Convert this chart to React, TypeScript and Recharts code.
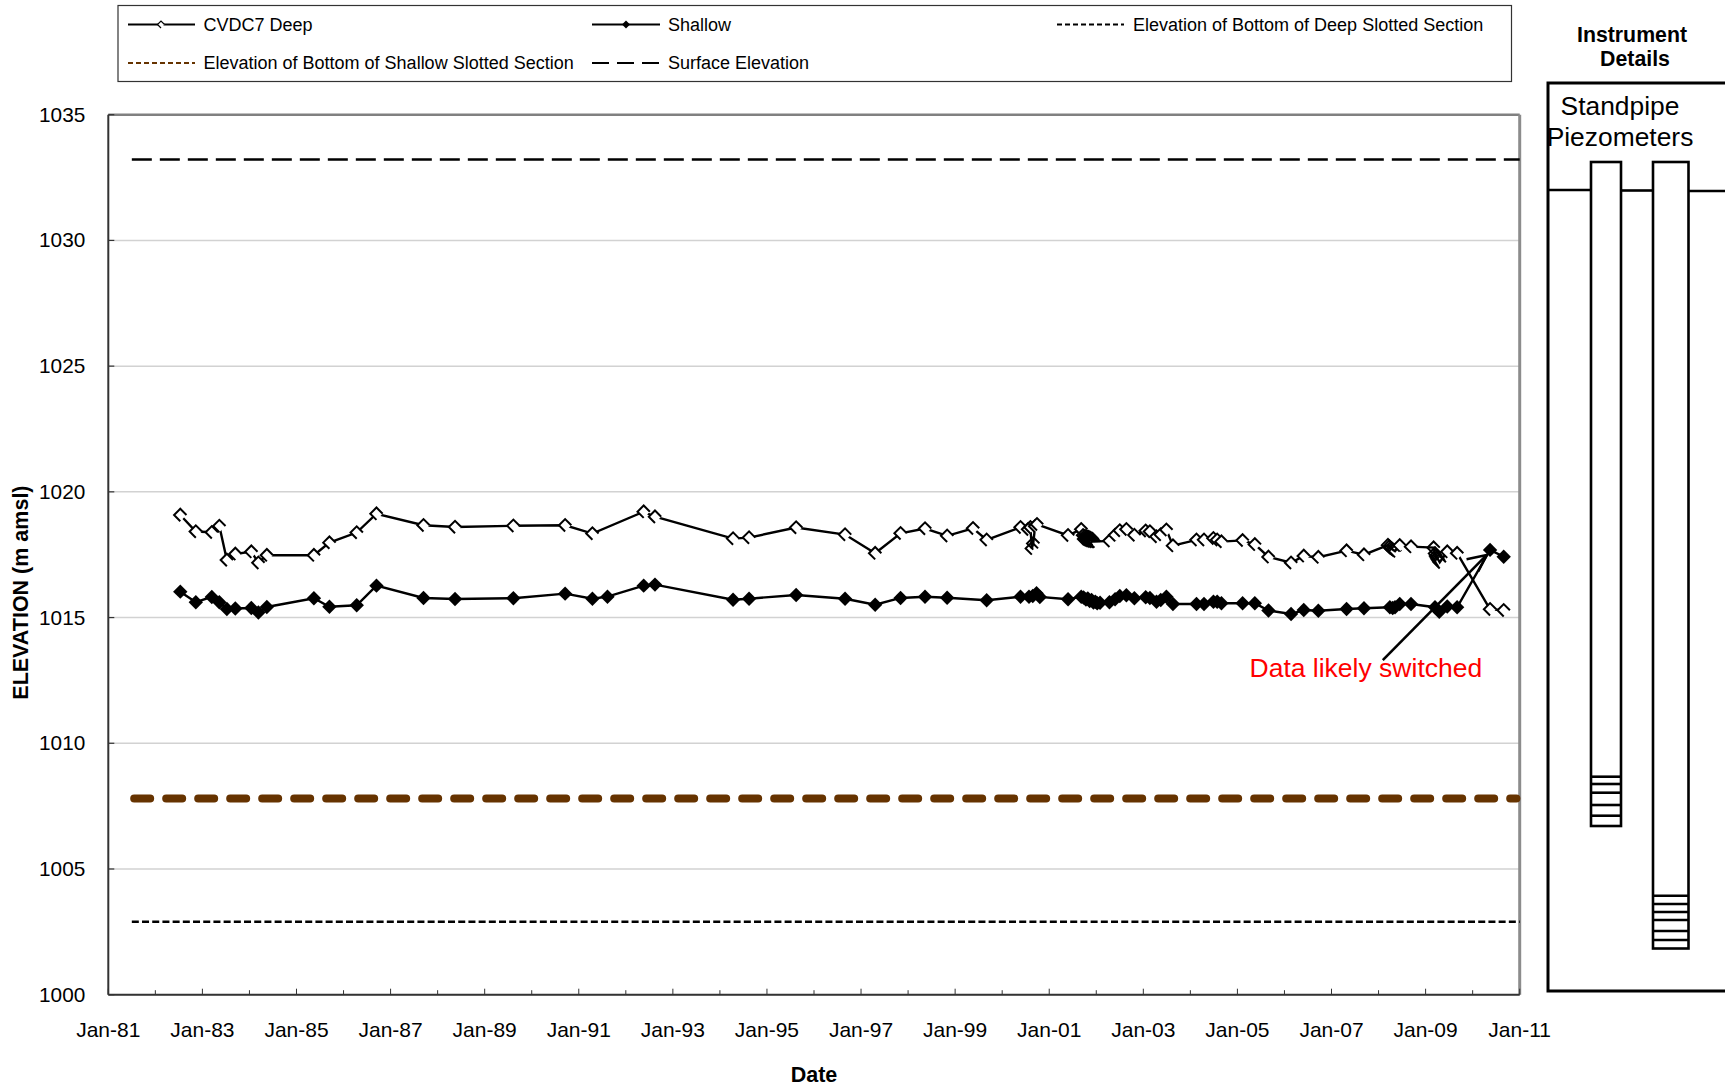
import React from "react";
import { LineChart, Line, XAxis, YAxis, CartesianGrid, ReferenceLine, ReferenceDot } from "recharts";

const FONT = "'Liberation Sans', Arial, sans-serif";

const deepDates = [
  1982.53, 1982.86, 1983.2, 1983.36, 1983.52, 1983.7, 1984.04, 1984.19, 1984.37, 1985.37, 1985.7, 1986.28, 1986.7,
  1987.7, 1988.37, 1989.61, 1990.71, 1991.29, 1992.38, 1992.62, 1994.28, 1994.62, 1995.62, 1996.66, 1997.3, 1997.84,
  1998.36, 1998.83, 1999.38, 1999.67, 2000.39, 2000.55, 2000.6, 2000.63, 2000.66, 2000.7, 2000.74, 2001.4, 2001.68,
  2001.72, 2001.74, 2001.76, 2001.78, 2001.8, 2001.82, 2001.84, 2001.86, 2001.88, 2001.9, 2001.92, 2001.94, 2001.96,
  2002.28, 2002.4, 2002.5, 2002.64, 2002.81, 2003.05, 2003.14, 2003.28, 2003.37, 2003.49, 2003.63, 2004.13, 2004.29,
  2004.49, 2004.57, 2004.66, 2005.11, 2005.37, 2005.66, 2006.14, 2006.41, 2006.72, 2007.32, 2007.69, 2008.2, 2008.23,
  2008.26, 2008.29, 2008.32, 2008.35, 2008.45, 2008.69, 2009.17, 2009.2, 2009.22, 2009.24, 2009.26, 2009.28, 2009.3,
  2009.46, 2009.67, 2010.37, 2010.66,
];
const deepLevels = [
  1019.08, 1018.42, 1018.39, 1018.64, 1017.29, 1017.53, 1017.62, 1017.18, 1017.48, 1017.48, 1017.98, 1018.38, 1019.13,
  1018.67, 1018.6, 1018.65, 1018.67, 1018.34, 1019.21, 1019.01, 1018.14, 1018.18, 1018.58, 1018.3, 1017.56, 1018.35,
  1018.54, 1018.25, 1018.55, 1018.09, 1018.59, 1018.51, 1018.59, 1017.75, 1017.95, 1018.63, 1018.71, 1018.27, 1018.51,
  1018.27, 1018.12, 1018.24, 1018.08, 1018.22, 1018.05, 1018.2, 1018.03, 1018.16, 1018.02, 1018.12, 1018.02, 1018.02,
  1018.05, 1018.28, 1018.46, 1018.51, 1018.28, 1018.45, 1018.42, 1018.22, 1018.3, 1018.49, 1017.86, 1018.09, 1018.09,
  1018.15, 1018.09, 1018.02, 1018.07, 1017.91, 1017.41, 1017.18, 1017.45, 1017.4, 1017.66, 1017.5, 1017.88, 1017.82,
  1017.76, 1017.72, 1017.68, 1017.64, 1017.87, 1017.82, 1017.78, 1017.55, 1017.45, 1017.38, 1017.32, 1017.26, 1017.2,
  1017.62, 1017.56, 1015.33, 1015.29,
];

const shallowDates = [
  1982.53, 1982.86, 1983.2, 1983.36, 1983.52, 1983.7, 1984.04, 1984.19, 1984.37, 1985.37, 1985.7, 1986.28, 1986.7,
  1987.7, 1988.37, 1989.61, 1990.71, 1991.29, 1991.61, 1992.38, 1992.62, 1994.28, 1994.62, 1995.62, 1996.66, 1997.3,
  1997.84, 1998.36, 1998.83, 1999.67, 2000.39, 2000.57, 2000.65, 2000.73, 2000.8, 2001.4, 2001.68, 2001.73, 2001.78,
  2001.82, 2001.86, 2001.9, 2001.94, 2001.98, 2002.02, 2002.08, 2002.28, 2002.4, 2002.5, 2002.64, 2002.81, 2003.05,
  2003.14, 2003.28, 2003.37, 2003.49, 2003.63, 2004.13, 2004.29, 2004.49, 2004.57, 2004.66, 2005.11, 2005.37, 2005.66,
  2006.14, 2006.41, 2006.72, 2007.32, 2007.69, 2008.24, 2008.3, 2008.35, 2008.45, 2008.69, 2009.2, 2009.29, 2009.46,
  2009.67, 2010.37, 2010.66,
];
const shallowLevels = [
  1016.03, 1015.61, 1015.82, 1015.61, 1015.34, 1015.36, 1015.38, 1015.2, 1015.42, 1015.77, 1015.43, 1015.49, 1016.27,
  1015.78, 1015.74, 1015.77, 1015.95, 1015.75, 1015.83, 1016.27, 1016.31, 1015.71, 1015.75, 1015.9, 1015.75, 1015.51,
  1015.78, 1015.83, 1015.79, 1015.69, 1015.83, 1015.83, 1015.86, 1015.97, 1015.82, 1015.73, 1015.83, 1015.8, 1015.72,
  1015.76, 1015.66, 1015.7, 1015.6, 1015.63, 1015.57, 1015.59, 1015.61, 1015.73, 1015.86, 1015.89, 1015.77, 1015.81,
  1015.78, 1015.63, 1015.7, 1015.83, 1015.54, 1015.54, 1015.54, 1015.63, 1015.63, 1015.57, 1015.57, 1015.57, 1015.28,
  1015.14, 1015.3, 1015.27, 1015.34, 1015.37, 1015.41, 1015.38, 1015.41, 1015.54, 1015.54, 1015.41, 1015.23, 1015.44,
  1015.41, 1017.69, 1017.42,
];

const flatSpan = [1981.5, 2011];
const brownSpan = [1981.55, 2010.93];
const surfaceElevation = 1033.22;
const shallowBottom = 1007.8;
const deepBottom = 1002.9;

const yearTicks = [
  1981, 1982, 1983, 1984, 1985, 1986, 1987, 1988, 1989, 1990, 1991, 1992, 1993, 1994, 1995, 1996, 1997, 1998, 1999,
  2000, 2001, 2002, 2003, 2004, 2005, 2006, 2007, 2008, 2009, 2010, 2011,
];
const elevationTicks = [1000, 1005, 1010, 1015, 1020, 1025, 1030, 1035];

const legendTitles = [
  "CVDC7 Deep",
  "Shallow",
  "Elevation of Bottom of Deep Slotted Section",
  "Elevation of Bottom of Shallow Slotted Section",
  "Surface Elevation",
];

const annotationText = "Data likely switched";
const annotationShaft = [[2008.09, 1013.31], [2010.3, 1017.49]];
const annotationBarbA = [[2009.87, 1017.32], [2010.3, 1017.49]];
const annotationBarbB = [[2010.12, 1016.83], [2010.3, 1017.49]];

const pipeOneSlots = [776.7, 784, 792.7, 805, 815.7];
const pipeTwoSlots = [895.7, 904, 912, 920, 931, 940];

const toRows = (xs: number[], ys: number[]) => xs.map((t, i) => ({ t, v: ys[i] }));
const flat = (v: number, span: number[] = flatSpan) => span.map((t) => ({ t, v }));
const seg = (p: number[][]) => p.map(([x, y]) => ({ x, y })) as any;

function DeepDot(p: any) {
  const { cx, cy, index } = p;
  const r = 6.2;
  const prev = deepDates[index - 1];
  const next = deepDates[index + 1];
  const dense = (next !== undefined && next - deepDates[index] < 0.035) || (prev !== undefined && deepDates[index] - prev < 0.035);
  return (
    <g key={index}>
      {dense ? null : (
        <path d={`M${cx - r} ${cy}L${cx} ${cy - r}L${cx + r} ${cy}L${cx} ${cy + r}Z`} fill="#fff" stroke="none" />
      )}
      <path
        d={`M${cx + r} ${cy}L${cx} ${cy - r}L${cx - r} ${cy}L${cx} ${cy + r}`}
        fill="none"
        stroke="#000"
        strokeWidth={2}
      />
    </g>
  );
}

function ShallowDot(p: any) {
  const { cx, cy, index } = p;
  const r = 7.2;
  return <path key={index} d={`M${cx - r} ${cy}L${cx} ${cy - r}L${cx + r} ${cy}L${cx} ${cy + r}Z`} fill="#000" />;
}

function XTick(p: any) {
  const { x, y, payload } = p;
  const odd = payload.value % 2 === 1;
  return (
    <g>
      <line x1={x} x2={x} y1={y} y2={y - (odd ? 6 : 4.5)} stroke="#333" strokeWidth={1} />
      {odd ? (
        <text x={x} y={y + 42} textAnchor="middle" fontFamily={FONT} fontSize={21} fill="#000">
          {`Jan-${String(payload.value).slice(2)}`}
        </text>
      ) : null}
    </g>
  );
}

function YTick(p: any) {
  const { x, y, payload } = p;
  return (
    <g>
      <line x1={x} x2={x + 6} y1={y} y2={y} stroke="#333" strokeWidth={1.2} />
      <text x={x - 23} y={y + 7} textAnchor="end" fontFamily={FONT} fontSize={20.8} fill="#000">
        {payload.value}
      </text>
    </g>
  );
}

function Overlay() {
  const stroke = { stroke: "#000", strokeWidth: 2.6, fill: "none" };
  const txt = { fontFamily: FONT, fill: "#000" };
  const legendFont = 18;
  return (
    <svg
      width={1725}
      height={1087}
      style={{ position: "absolute", left: 0, top: 0, pointerEvents: "none" }}
    >
      <rect x={118} y={5.5} width={1393.5} height={76} fill="#fff" stroke="#333" strokeWidth={1.2} />
      {/* row one */}
      <line x1={128} x2={195} y1={24.5} y2={24.5} stroke="#000" strokeWidth={2} />
      <path d="M157.5 24.5L161 21L164.5 24.5L161 28Z" fill="#fff" />
      <path d="M164.5 24.5L161 21L157.5 24.5L161 28" fill="none" stroke="#000" strokeWidth={1.2} />
      <text x={203.5} y={30.5} fontSize={legendFont} {...txt}>{legendTitles[0]}</text>
      <line x1={592} x2={660} y1={24.5} y2={24.5} stroke="#000" strokeWidth={2} />
      <path d="M622 24.5L626 20.5L630 24.5L626 28.5Z" fill="#000" />
      <text x={668} y={30.5} fontSize={legendFont} {...txt}>{legendTitles[1]}</text>
      <line x1={1057} x2={1124} y1={24.5} y2={24.5} stroke="#000" strokeWidth={2} strokeDasharray="5 3" />
      <text x={1133} y={30.5} fontSize={legendFont} {...txt}>{legendTitles[2]}</text>
      {/* row two */}
      <line x1={128} x2={195} y1={63} y2={63} stroke="#663300" strokeWidth={2} strokeDasharray="5 3" />
      <text x={203.5} y={69} fontSize={legendFont} {...txt}>{legendTitles[3]}</text>
      <line x1={592} x2={660} y1={63} y2={63} stroke="#000" strokeWidth={2} strokeDasharray="17 8" />
      <text x={668} y={69} fontSize={legendFont} {...txt}>{legendTitles[4]}</text>

      {/* instrument details */}
      <text x={1632} y={42} textAnchor="middle" fontSize={21.3} fontWeight={700} {...txt}>Instrument</text>
      <text x={1635} y={66} textAnchor="middle" fontSize={21.3} fontWeight={700} {...txt}>Details</text>
      <path d="M1727 83L1548 83L1548 991L1727 991" fill="none" stroke="#000" strokeWidth={3} />
      <text x={1620} y={115} textAnchor="middle" fontSize={26.4} {...txt}>Standpipe</text>
      <text x={1620} y={146} textAnchor="middle" fontSize={26.4} {...txt}>Piezometers</text>
      <line x1={1548} x2={1591} y1={190} y2={190} {...stroke} />
      <line x1={1621} x2={1653} y1={190.5} y2={190.5} {...stroke} />
      <line x1={1688} x2={1727} y1={191} y2={191} {...stroke} />
      <rect x={1591} y={162} width={30} height={664} {...stroke} />
      <rect x={1653} y={162} width={35.5} height={786.5} {...stroke} />
      {pipeOneSlots.map((y) => (
        <line key={y} x1={1591} x2={1621} y1={y} y2={y} {...stroke} />
      ))}
      {pipeTwoSlots.map((y) => (
        <line key={y} x1={1653} x2={1688.5} y1={y} y2={y} {...stroke} />
      ))}
    </svg>
  );
}

export default function App() {
  return (
    <div style={{ position: "absolute", left: 0, top: 0, width: 1725, height: 1087, overflow: "hidden", background: "#fff" }}>
      <LineChart width={1725} height={1087} margin={{ top: 114.7, right: 205.3, bottom: 0, left: 0.3 }} style={{ fontFamily: FONT }}>
        <CartesianGrid vertical={false} stroke="#d2d2d2" strokeWidth={1.5} />
        <XAxis
          type="number"
          dataKey="t"
          domain={[1981, 2011]}
          ticks={yearTicks}
          interval={0}
          height={92.3}
          stroke="#333"
          strokeWidth={2}
          tickLine={false}
          tickSize={0}
          tickMargin={0}
          tick={<XTick />}
          label={{ value: "Date", position: "insideBottom", offset: 5, fontSize: 21.5, fontWeight: 700, fill: "#000", fontFamily: FONT }}
        />
        <YAxis
          type="number"
          domain={[1000, 1035]}
          ticks={elevationTicks}
          interval={0}
          width={108}
          stroke="#333"
          strokeWidth={2}
          tickLine={false}
          tickSize={0}
          tickMargin={0}
          tick={<YTick />}
          label={{ value: "ELEVATION (m amsl)", angle: -90, position: "insideLeft", offset: 20, fontSize: 21.5, fontWeight: 700, fill: "#000", fontFamily: FONT, dy: 145 }}
        />
        <ReferenceLine y={1035} stroke="#808080" strokeWidth={2.5} />
        <ReferenceLine x={2011} stroke="#8c8c8c" strokeWidth={3} />

        <Line data={flat(surfaceElevation)} dataKey="v" stroke="#000" strokeWidth={2.4} strokeDasharray="20 8" dot={false} isAnimationActive={false} />
        <Line data={flat(shallowBottom, brownSpan)} dataKey="v" stroke="#663300" strokeWidth={8} strokeDasharray="16 16" strokeLinecap="round" dot={false} isAnimationActive={false} />
        <Line data={flat(deepBottom)} dataKey="v" stroke="#000" strokeWidth={2.4} strokeDasharray="7 3.2" dot={false} isAnimationActive={false} />
        <Line data={toRows(deepDates, deepLevels)} dataKey="v" stroke="#000" strokeWidth={2.4} dot={<DeepDot />} isAnimationActive={false} />
        <Line data={toRows(shallowDates, shallowLevels)} dataKey="v" stroke="#000" strokeWidth={2.4} dot={<ShallowDot />} isAnimationActive={false} />

        <ReferenceLine segment={seg(annotationShaft)} stroke="#000" strokeWidth={2.6} />
        <ReferenceLine segment={seg(annotationBarbA)} stroke="#000" strokeWidth={2.4} />
        <ReferenceLine segment={seg(annotationBarbB)} stroke="#000" strokeWidth={2.4} />
        <ReferenceDot
          x={2007.73}
          y={1013.0}
          r={0}
          stroke="none"
          label={{ value: annotationText, position: "center", fill: "#ff0000", fontSize: 26.5, fontFamily: FONT }}
        />
      </LineChart>
      <Overlay />
    </div>
  );
}
